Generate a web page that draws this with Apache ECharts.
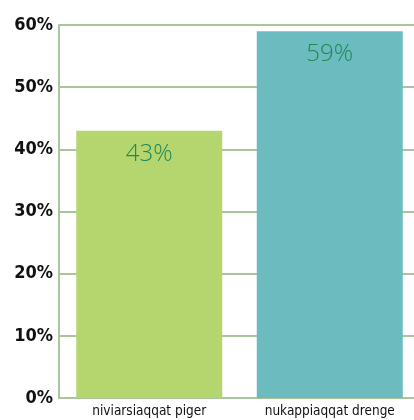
<!DOCTYPE html>
<html><head><meta charset="utf-8">
<script src="https://cdn.jsdelivr.net/npm/echarts@6/dist/echarts.min.js"></script>
<style>html,body{margin:0;padding:0;background:#fff;overflow:hidden;width:414px;height:420px}#c{width:420px;height:420px}</style>
</head><body><div id="c"></div>
<script>
var categories = ['niviarsiaqqat piger', 'nukappiaqqat drenge'];
var values = [43, 59];
var barColors = ['#b5d66f', '#6cbbbe'];
var yTicks = [0, 10, 20, 30, 40, 50, 60];

var chart = echarts.init(document.getElementById('c'));
chart.setOption({
  animation: false,
  grid: {left: 59, right: 0, top: 25, bottom: 22, containLabel: false},
  xAxis: {
    type: 'category', data: categories,
    axisLine: {lineStyle: {color: '#a9c59c', width: 2}},
    axisTick: {show: false},
    axisLabel: {color: '#111', fontFamily: '"DejaVu Sans Condensed", "DejaVu Sans", sans-serif', fontSize: 13.5, margin: 6}
  },
  yAxis: {
    type: 'value', min: 0, max: 60, interval: 10,
    axisLine: {show: true, lineStyle: {color: '#a9c59c', width: 2}},
    axisTick: {show: false},
    splitLine: {lineStyle: {color: '#a9c59c', width: 2}},
    axisLabel: {color: '#111', fontFamily: '"DejaVu Sans Condensed", "DejaVu Sans", sans-serif', fontWeight: 'bold', fontSize: 18, margin: 6,
      formatter: function (v) { return yTicks.indexOf(v) >= 0 ? v + '%' : ''; }}
  },
  series: [{
    type: 'bar', barWidth: 146,
    data: values.map(function (v, i) { return {value: v, itemStyle: {color: barColors[i]}}; }),
    label: {show: true, position: 'insideTop', distance: 11, color: '#1f8857',
      fontFamily: 'Open Sans', fontWeight: 300, fontSize: 24, formatter: '{c}%'}
  }]
});
</script></body></html>
